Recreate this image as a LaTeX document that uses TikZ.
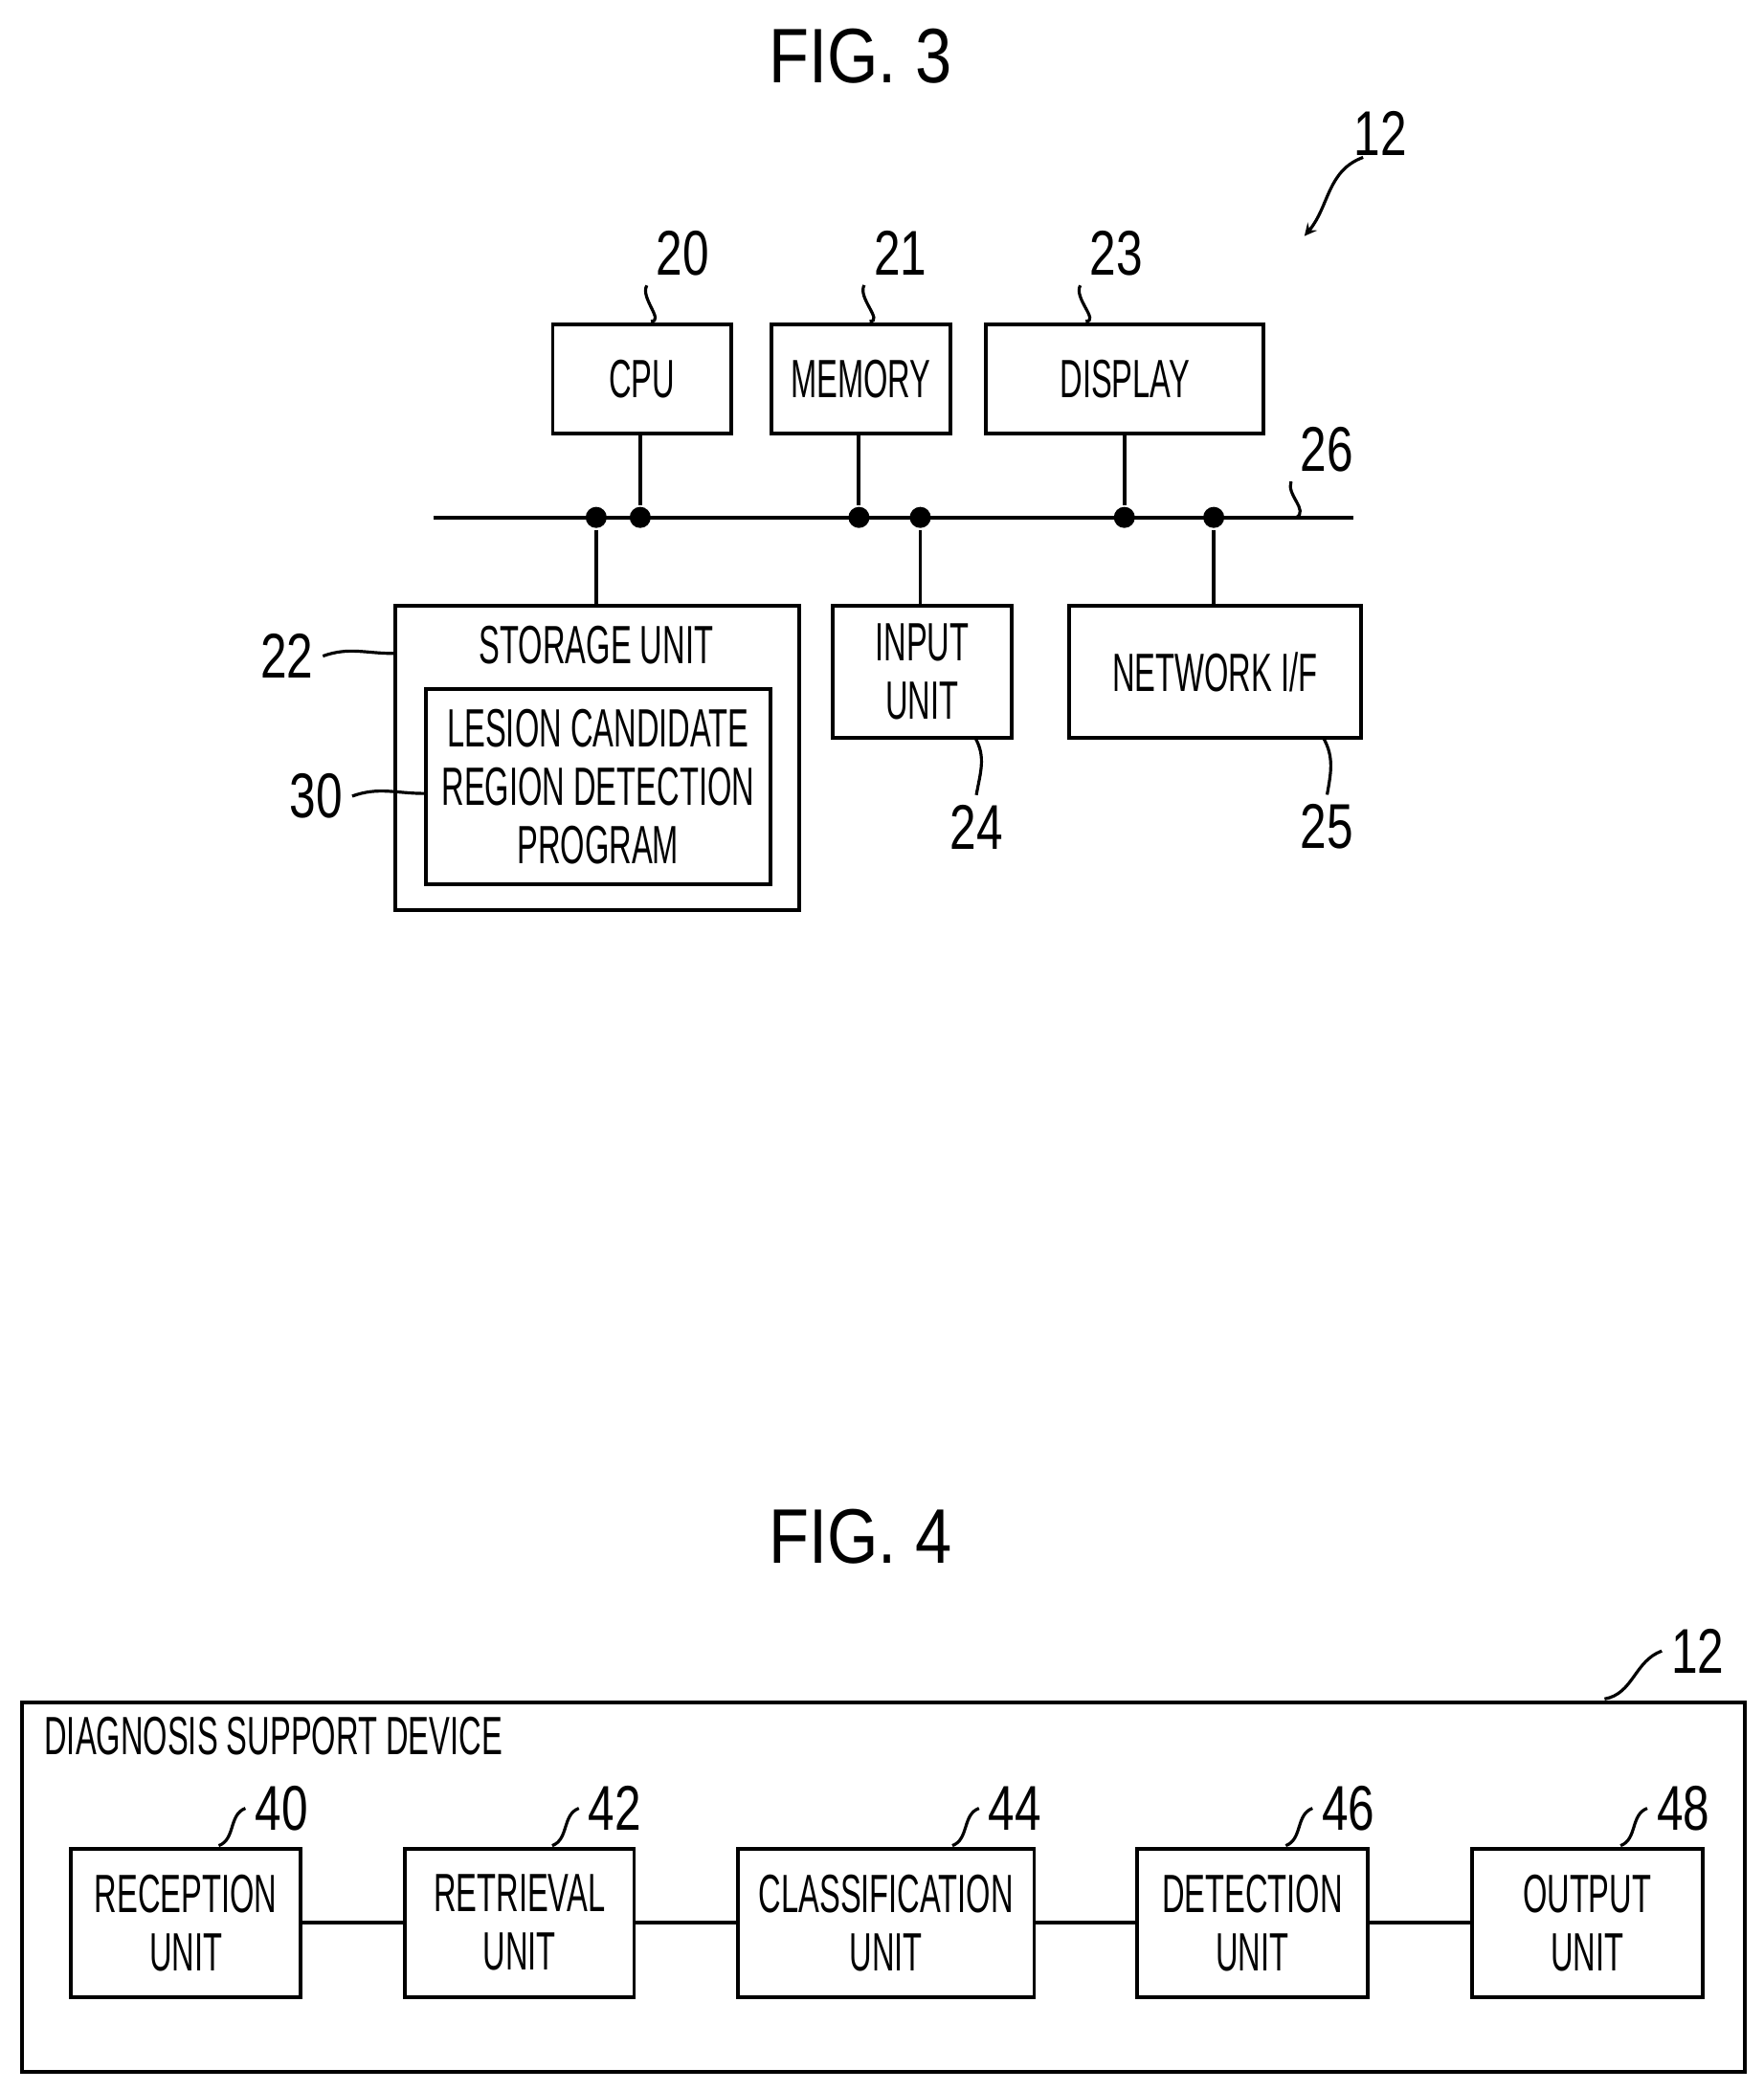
\documentclass[tikz,border=0pt]{standalone}
\usepackage{fontspec}
\setmainfont{Liberation Sans}[FakeStretch=0.58]
\newfontfamily\figfont{Liberation Sans}[FakeStretch=0.85]
\usetikzlibrary{positioning}

\tikzstyle{block} = [
        rectangle,
        draw=black,
        line width=1.6pt,
        align=center,
        inner sep=0pt,
        font=\fontsize{23}{25}\selectfont
    ]
\tikzstyle{num} = [font=\fontsize{27}{28}\selectfont\addfontfeatures{FakeStretch=0.75}]
\tikzstyle{lead} = [line width=1.3pt]
\tikzstyle{joint} = [circle,fill=black,inner sep=0pt,minimum size=9pt]

\begin{document}
\begin{tikzpicture}[x=0.02cm,y=-0.02cm,line width=1.6pt]
        \useasboundingbox (0,0) rectangle (1322,1568);

        % FIG. 3
        \node (fig3) at (645,42) {\figfont\fontsize{33}{36}\selectfont FIG. 3};
        \node (dev) [num] at (1035,100) {12};
        \coordinate (devtip) at (978,177);
        \draw [lead,-stealth] (1022,118) to[out=200,in=50] (devtip);

        \node (cpu) [block,anchor=north west,minimum width=2.68cm,minimum height=1.64cm] at (413,242) {CPU};
        \node (mem) [block,anchor=north west,minimum width=2.68cm,minimum height=1.64cm] at (577,242) {MEMORY};
        \node (disp) [block,anchor=north west,minimum width=4.16cm,minimum height=1.64cm] at (738,242) {DISPLAY};
        \node (n20) [num] at (512,190) {20};
        \node (n21) [num] at (675,190) {21};
        \node (n23) [num] at (837,190) {23};
        \draw [lead] (488,241) to[out=0,in=240] (n20.south west);
        \draw [lead] (652,241) to[out=0,in=240] (n21.south west);
        \draw [lead] (814,241) to[out=0,in=240] (n23.south west);

        % bus
        \coordinate (busl) at (325,388);
        \coordinate (busr) at (1015,388);
        \draw (busl) -- (busr);
        \node (n26) [num] at (995,337) {26};
        \draw [lead] (972,388) to[out=30,in=250] (n26.south west);

        \node (stor) [block,anchor=north west,minimum width=6.06cm,minimum height=4.56cm] at (295,453) {};
        \node (stortxt) [font=\fontsize{23}{24}\selectfont] at (447,484) {STORAGE UNIT};
        \node (prog) [block,anchor=north west,minimum width=5.16cm,minimum height=2.94cm] at (318,515)
            {LESION CANDIDATE\\REGION DETECTION\\PROGRAM};
        \node (inp) [block,anchor=north west,minimum width=2.68cm,minimum height=1.98cm] at (623,453) {INPUT\\UNIT};
        \node (net) [block,anchor=north west,minimum width=4.38cm,minimum height=1.98cm] at (800,453) {NETWORK I/F};

        \foreach \x/\b in {480/cpu,644/mem,843/disp} {
            \node (j\x) [joint] at (\x,388) {};
            \draw (\b.south -| j\x) -- (j\x);
        }
        \foreach \x/\b in {447/stor,690/inp,910/net} {
            \node (j\x) [joint] at (\x,388) {};
            \draw (j\x) -- (\b.north -| j\x);
        }

        \node (n22) [num] at (215,492) {22};
        \node (n30) [num] at (237,597) {30};
        \node (n24) [num] at (732,620) {24};
        \node (n25) [num] at (995,620) {25};
        \draw [lead] (n22.east) to[out=20,in=180] (stor.west |- 0,490);
        \draw [lead] (n30.east) to[out=20,in=180] (prog.west |- 0,595);
        \draw [lead] (731,553) to[out=-60,in=80] (n24.north);
        \draw [lead] (992,553) to[out=-60,in=80] (n25.north);

        % FIG. 4
        \node (fig4) at (645,1152) {\figfont\fontsize{33}{36}\selectfont FIG. 4};
        \node (outer) [block,anchor=north west,minimum width=25.84cm,minimum height=5.54cm] at (15,1275) {};
        \node (title) [anchor=west,font=\fontsize{23}{24}\selectfont] at (26,1302) {DIAGNOSIS SUPPORT DEVICE};
        \node (n12) [num] at (1273,1238) {12};
        \draw [lead] (1203,1274) to[out=10,in=200] (n12.west);

        \foreach \x/\w/\n/\t in {52/172/40/{RECEPTION\\UNIT},302/172/42/{RETRIEVAL\\UNIT},
                552/222/44/{CLASSIFICATION\\UNIT},851/173/46/{DETECTION\\UNIT},1102/173/48/{OUTPUT\\UNIT}} {
            \node (u\n) [block,anchor=north west,minimum width=\w*0.02cm,minimum height=2.22cm] at (\x,1385) {\t};
            \node (l\n) [num,anchor=west] at (\x+132+\w-172,1356) {\n};
            \draw [lead] (\x+\w-60,1384) to[out=20,in=200] (l\n.west);
        }
        \draw (u40) -- (u42);
        \draw (u42) -- (u44);
        \draw (u44) -- (u46);
        \draw (u46) -- (u48);
\end{tikzpicture}
\end{document}
